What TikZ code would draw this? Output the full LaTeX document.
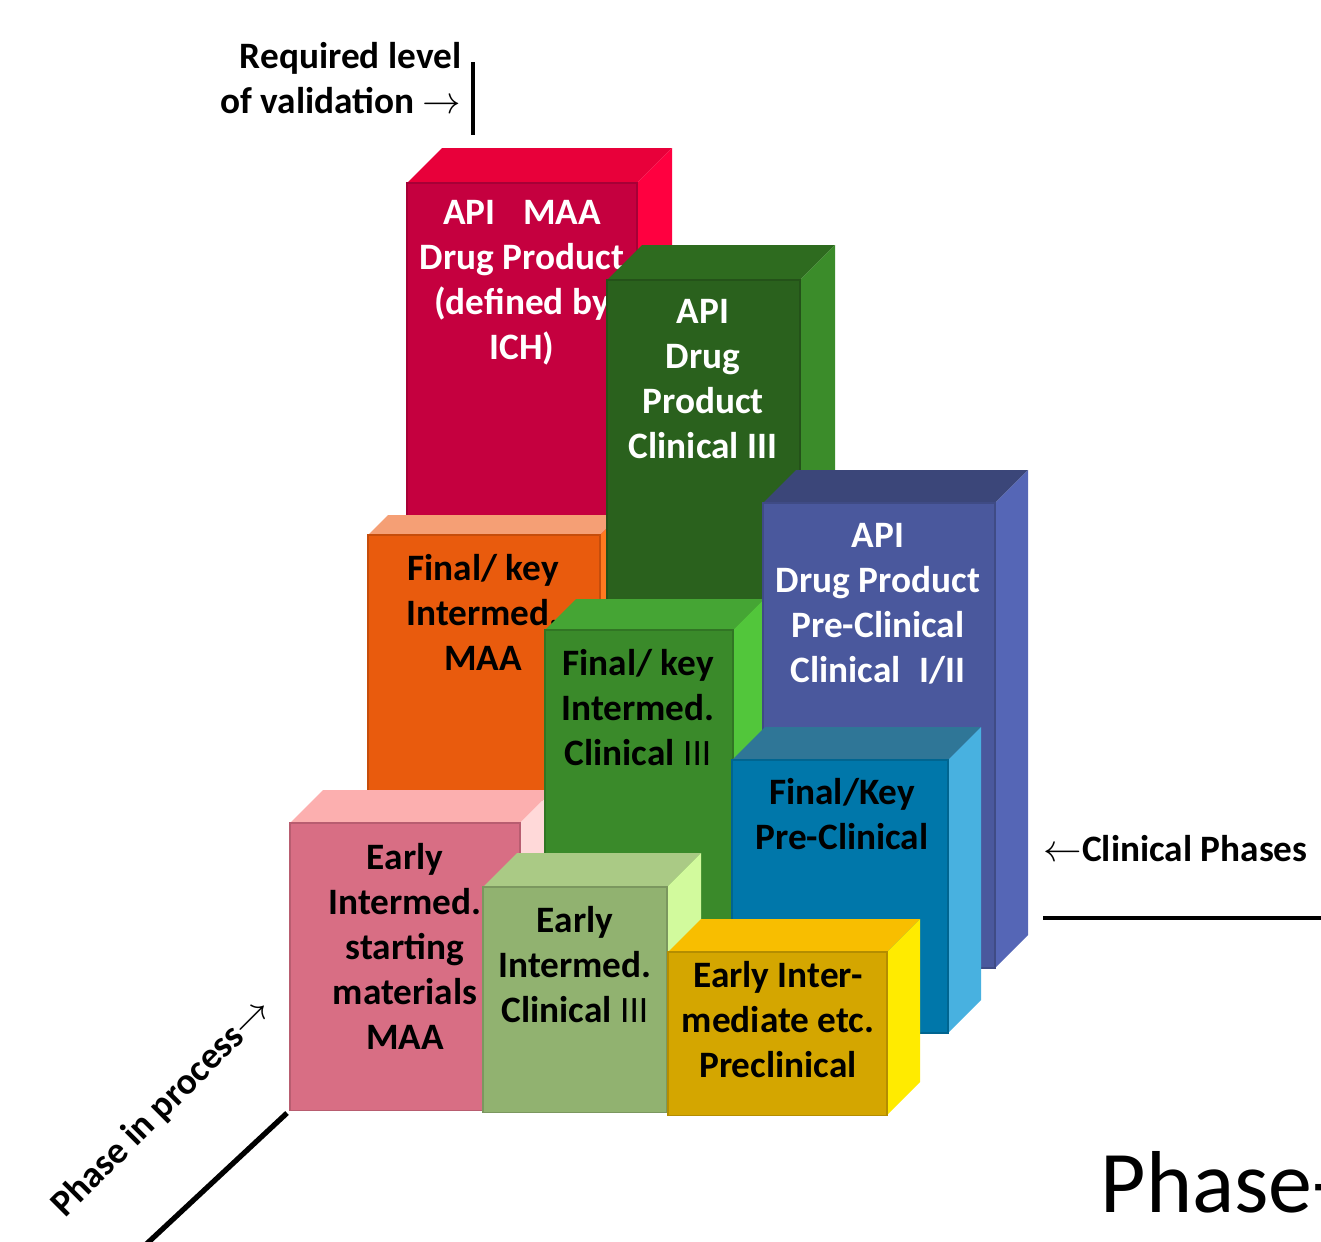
\documentclass[tikz,border=0pt]{standalone}
\usepackage{fontspec}
\setmainfont{Carlito}
\usepackage{amsmath}
\usepackage{tikz}
\usetikzlibrary{positioning}

\definecolor{RedFront}{HTML}{C5003F}
\definecolor{RedTop}{HTML}{E8003A}
\definecolor{RedSide}{HTML}{FF0040}
\definecolor{PineFront}{HTML}{2A611D}
\definecolor{PineTop}{HTML}{2E6B1F}
\definecolor{PineSide}{HTML}{3B8C2A}
\definecolor{IndigoFront}{HTML}{4A589D}
\definecolor{IndigoTop}{HTML}{3B4679}
\definecolor{IndigoSide}{HTML}{5566B6}
\definecolor{OrangeFront}{HTML}{E95B0D}
\definecolor{OrangeTop}{HTML}{F59F75}
\definecolor{OrangeSide}{HTML}{FF7A20}
\definecolor{LeafFront}{HTML}{3A8A2A}
\definecolor{LeafTop}{HTML}{45A534}
\definecolor{LeafSide}{HTML}{52C63B}
\definecolor{TealFront}{HTML}{0077AA}
\definecolor{TealTop}{HTML}{2F7697}
\definecolor{TealSide}{HTML}{48B1E0}
\definecolor{PinkFront}{HTML}{D86E84}
\definecolor{PinkTop}{HTML}{FCAFAF}
\definecolor{PinkSide}{HTML}{FFD9D9}
\definecolor{SageFront}{HTML}{91B270}
\definecolor{SageTop}{HTML}{AACA85}
\definecolor{SageSide}{HTML}{D2FA9D}
\definecolor{GoldFront}{HTML}{D4A600}
\definecolor{GoldTop}{HTML}{F8BE00}
\definecolor{GoldSide}{HTML}{FFEB00}

% left, right, top, bottom, depth, colour
\newcommand{\valblock}[6]{%
  \fill[#6Top] (#1,#3) -- (#1+#5,#3-#5) -- (#2+#5,#3-#5) -- (#2,#3) -- cycle;
  \fill[#6Side] (#2,#3) -- (#2+#5,#3-#5) -- (#2+#5,#4-#5) -- (#2,#4) -- cycle;
  \fill[#6Front, draw=#6Front!85!black, line width=0.3pt] (#1,#3) rectangle (#2,#4);
}

\tikzset{
  blocktext/.style={font=\fontsize{10.6}{12.8}\selectfont\bfseries, align=center, inner sep=0pt},
  whitetext/.style={blocktext, text=white},
  axislabel/.style={font=\fontsize{10.6}{12.8}\selectfont\bfseries, inner sep=0pt},
  axisline/.style={line width=1.3pt}
}

\begin{document}
\begin{tikzpicture}[x=0.01cm, y=-0.01cm]
\useasboundingbox (0,0) rectangle (1321,1241);

\valblock{407}{637}{183}{540}{35}{Red}
\node[whitetext] (maa) at (522,283)
  {API\hspace{0.74em}MAA\\Drug Product\\(defined by\\ICH)};

\valblock{368}{600}{535}{800}{20}{Orange}
\node[blocktext] (keymaa) at (483,612) {Final/ key\\Intermed.\\MAA};

\valblock{290}{520}{823}{1110}{33}{Pink}
\node[blocktext] (earlymaa) at (405,946)
  {Early\\Intermed.\\starting\\materials\\MAA};

\valblock{607}{800}{280}{650}{35}{Pine}
\node[whitetext] (clin3) at (703,379) {API\\Drug\\Product\\Clinical III};

\valblock{545}{733}{630}{960}{31}{Leaf}
\node[blocktext] (keyclin3) at (638,708)
  {Final/ key\\Intermed.\\Clinical {\mdseries III}};

\valblock{483}{667}{887}{1112}{34}{Sage}
\node[blocktext] (earlyclin3) at (575,965)
  {Early\\Intermed.\\Clinical {\mdseries III}};

\valblock{763}{995}{503}{968}{33}{Indigo}
\node[whitetext] (preclin) at (878,604)
  {API\\Drug Product\\Pre-Clinical\\Clinical\hspace{0.5em}I/II};

\valblock{732}{948}{760}{1033}{33}{Teal}
\node[blocktext] (keypreclin) at (842,814) {Final/Key\\Pre-Clinical};

\valblock{668}{887}{952}{1115}{33}{Gold}
\node[blocktext] (earlypreclin) at (778,1020)
  {Early Inter-\\mediate etc.\\Preclinical};

% axes
\node[axislabel, align=right, anchor=east] (valid) at (462,78)
  {Required level\\of validation $\rightarrow$};
\coordinate (validtop) at (473,62);
\coordinate (validbot) at (473,135);
\draw[axisline] (validtop) -- (validbot);

\node[axislabel, anchor=west] (phases) at (1043,849) {$\leftarrow$Clinical Phases};
\coordinate (phasesleft) at (1043,918);
\coordinate (phasesright) at (1321,918);
\draw[axisline] (phasesleft) -- (phasesright);

\node[axislabel, rotate=45] (process) at (162,1108) {Phase in process$\rightarrow$};
\coordinate (processtop) at (287,1113);
\coordinate (processbot) at (140,1250);
\draw[line width=1.5pt] (processtop) -- (processbot);

\node[font=\fontsize{25}{30}\selectfont, anchor=base west, inner sep=0pt] (title)
  at (1100,1212) {Phase-};
\end{tikzpicture}
\end{document}
